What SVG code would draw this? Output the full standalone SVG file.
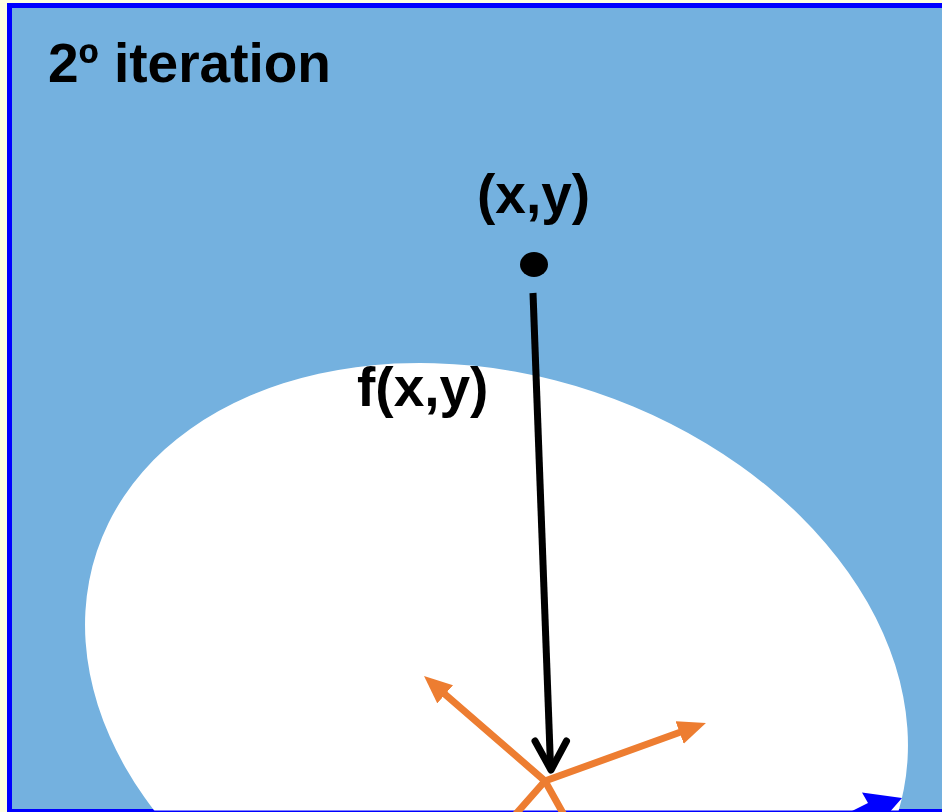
<svg xmlns="http://www.w3.org/2000/svg" width="942" height="812" viewBox="0 0 942 812">
  <style>
    .lbl { font-family: "Liberation Sans", Arial, sans-serif; font-weight: bold; font-size: 55px; fill: #000; }
    .orange { fill: none; stroke: #ED7D31; stroke-width: 7; stroke-linejoin: miter; }
  </style>
  <defs>
    <clipPath id="clipTop"><rect x="0" y="0" width="942" height="810.6"/></clipPath>
    <marker id="orangeHead" markerUnits="userSpaceOnUse" markerWidth="30" markerHeight="26" viewBox="0 0 30 26" refX="10" refY="12" orient="auto">
      <path d="M0,0 L28,12 L0,24 z" fill="#ED7D31"/>
    </marker>
  </defs>
  <rect x="0" y="0" width="942" height="812" fill="#FFFFE0"/>
  <g id="frame">
    <rect x="9.5" y="5.5" width="1000" height="806" fill="#74B1DF" stroke="#0000FF" stroke-width="5"/>
  </g>
  <g id="region" clip-path="url(#clipTop)">
    <ellipse cx="496.5" cy="685" rx="421.4" ry="308.9" transform="rotate(18.5 496.5 685)" fill="#FFFFFF"/>
  </g>
  <g id="title">
    <text class="lbl" x="48" y="82">2º iteration</text>
  </g>
  <g id="point">
    <ellipse cx="534" cy="264.5" rx="14" ry="12.5" fill="#000"/>
    <text class="lbl" x="477" y="213">(x,y)</text>
  </g>
  <g id="fxy-label">
    <text class="lbl" x="357" y="406">f(x,y)</text>
  </g>
  <g id="connectors">
    <line x1="533" y1="293" x2="550.5" y2="766" stroke="#000" stroke-width="7"/>
    <polyline points="535,741 551,770 566.5,741" fill="none" stroke="#000" stroke-width="7" stroke-linecap="round" stroke-linejoin="round"/>
    <polyline class="orange" points="515,815 545,781 689,729" marker-end="url(#orangeHead)"/>
    <polyline class="orange" points="564,815 545,781 437.6,687.8" marker-end="url(#orangeHead)"/>
    <polygon points="902,798 862,792.5 868,803 846,814 888,814" fill="#0000FF"/>
  </g>
</svg>
